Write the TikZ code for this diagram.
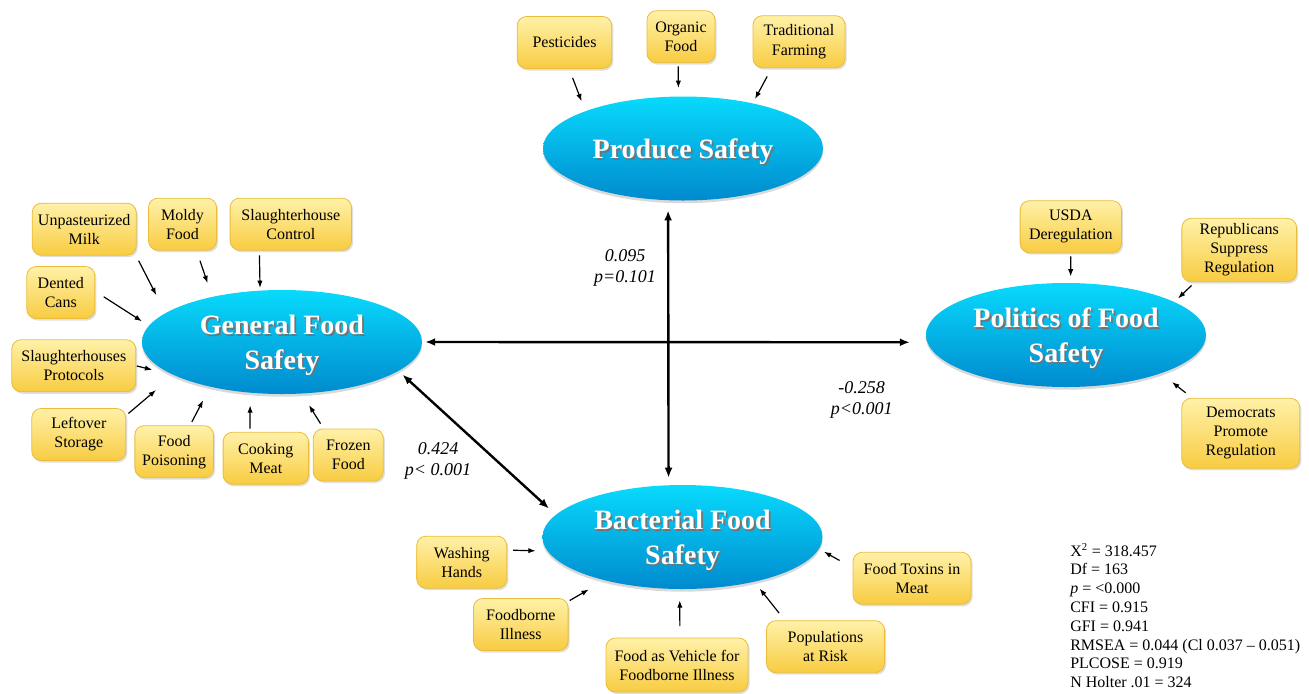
\documentclass[tikz,border=0pt]{standalone}
\usepackage{fontspec}
\setmainfont{Liberation Serif}
\usetikzlibrary{arrows.meta, positioning, shapes.geometric, shadows}
\definecolor{skytop}{RGB}{8,218,252}
\definecolor{skybot}{RGB}{0,138,206}
\definecolor{lemontop}{RGB}{255,241,168}
\definecolor{lemonbot}{RGB}{248,204,66}
\definecolor{lemonrim}{RGB}{234,188,58}
\newcommand{\shtxt}[1]{\makebox[0pt][l]{\kern1.3pt\raisebox{-1.3pt}{\textcolor{black!55}{#1}}}#1}
\tikzstyle{factor}=[ellipse, minimum width=210pt, minimum height=78pt, inner sep=1pt,
  top color=skytop, bottom color=skybot, draw=none, text depth=0pt,
  drop shadow={shadow xshift=0pt, shadow yshift=-2pt, opacity=0.3},
  text=white, font=\fontsize{21}{26}\selectfont\bfseries, align=center]
\tikzstyle{item}=[rectangle, rounded corners=7pt, draw=lemonrim, line width=0.6pt,
  top color=lemontop, bottom color=lemonbot, minimum height=39pt, inner xsep=3pt,
  drop shadow={shadow xshift=1.2pt, shadow yshift=-1.5pt, opacity=0.25},
  align=center, font=\fontsize{12}{14.3}\selectfont]
\tikzstyle{load}=[-{Latex[length=5.5pt,width=4pt]}, line width=0.9pt]
\tikzstyle{corr}=[{Latex[length=7.5pt,width=6pt]}-{Latex[length=7.5pt,width=6pt]}, line width=1.8pt]
\tikzstyle{coef}=[font=\fontsize{13.5}{15.75}\selectfont\itshape, align=center]

\begin{document}
\begin{tikzpicture}[x=0.75pt, y=-0.75pt]
  \useasboundingbox (0,0) rectangle (1309,693);
  % latent factors
  \node[factor] (prod) at (683,148.5) {\shtxt{Produce Safety}};
  \node[factor] (gen) at (282,342) {\shtxt{General Food}\\\shtxt{Safety}};
  \node[factor] (pol) at (1066,335) {\shtxt{Politics of Food}\\\shtxt{Safety}};
  \node[factor] (bact) at (682.5,537) {\shtxt{Bacterial Food}\\\shtxt{Safety}};
  % produce items
  \node[item, minimum width=71pt] (pest) at (564.5,42.5) {Pesticides};
  \node[item, minimum width=51pt] (organic) at (681,36.7) {Organic\\Food};
  \node[item, minimum width=69pt] (tradfarm) at (799,41.7) {Traditional\\Farming};
  % general items
  \node[item, minimum width=78pt] (unpast) at (84.2,229.2) {Unpasteurized\\Milk};
  \node[item, minimum width=51pt] (moldy) at (182.5,224.2) {Moldy\\Food};
  \node[item, minimum width=91pt] (slctrl) at (290.8,224.2) {Slaughterhouse\\Control};
  \node[item, minimum width=51pt] (dented) at (60.8,292.5) {Dented\\Cans};
  \node[item, minimum width=93pt] (slprot) at (73.8,365.8) {Slaughterhouses\\Protocols};
  \node[item, minimum width=70.5pt] (leftover) at (78.8,434.5) {Leftover\\Storage};
  \node[item, minimum width=59pt] (poison) at (174.2,451.7) {Food\\Poisoning};
  \node[item, minimum width=64pt] (cooking) at (265.8,458.3) {Cooking\\Meat};
  \node[item, minimum width=52.5pt] (frozen) at (348.3,455) {Frozen\\Food};
  % politics items
  \node[item, minimum width=76pt] (usda) at (1070.8,226.7) {USDA\\Deregulation};
  \node[item, minimum width=86pt, minimum height=47.5pt] (repub) at (1239.2,250) {Republicans\\Suppress\\Regulation};
  \node[item, minimum width=88.5pt, minimum height=52.5pt] (democ) at (1240.8,433.3) {Democrats\\Promote\\Regulation};
  % bacterial items
  \node[item, minimum width=67.5pt] (washing) at (461.7,562.2) {Washing\\Hands};
  \node[item, minimum width=71pt] (foodborne) at (520.8,624.5) {Foodborne\\Illness};
  \node[item, minimum width=106.5pt, minimum height=40.5pt] (vehicle) at (677,665) {Food as Vehicle for\\Foodborne Illness};
  \node[item, minimum width=88.5pt] (popul) at (825.5,646.7) {Populations\\at Risk};
  \node[item, minimum width=88.5pt] (toxins) at (912,578.3) {Food Toxins in\\Meat};
  % coefficients
  \node[coef] (c1) at (625,267.5) {0.095\\p=0.101};
  \node[coef] (c2) at (861.7,399.7) {-0.258\\p<0.001};
  \node[coef] (c3) at (438,461) {0.424\\p< 0.001};
  \node[anchor=north west, align=left, inner sep=0pt, font=\fontsize{12}{14.1}\selectfont] (fit) at (1070,543)
    {X\textsuperscript{2} = 318.457\\Df = 163\\\textit{p} = <0.000\\CFI = 0.915\\GFI = 0.941\\RMSEA = 0.044 (Cl 0.037 -- 0.051)\\PLCOSE = 0.919\\N Holter .01 = 324};
  % correlations
  \path[corr] (prod.-106) edge[shorten <=7.5pt, shorten >=5.5pt] (bact.105);
  \path[corr] (gen.east) edge[shorten <=2.2pt, shorten >=13pt] (pol.-177);
  \path[corr] (gen.-14) edge[shorten <=4pt, shorten >=6.8pt] (bact.170);
  % loadings
  \path[load] (pest.-80) edge[shorten <=7.2pt, shorten >=7.8pt] (prod.159);
  \path[load] (organic.-96) edge[shorten <=2.5pt, shorten >=6.2pt] (prod.95);
  \path[load] (tradfarm.-136) edge[shorten <=7.1pt, shorten >=3.5pt] (prod.33);
  \path[load] (unpast.-27) edge[shorten <=4.3pt, shorten >=15pt] (gen.166);
  \path[load] (moldy.-62) edge[shorten <=8pt, shorten >=10.7pt] (gen.147);
  \path[load] (slctrl.-140) edge[shorten <=3.6pt, shorten >=1.8pt] (gen.113);
  \path[load] (dented.2) edge[shorten <=7.6pt, shorten >=6.1pt] (gen.173);
  \path[load] (slprot.east) edge[shorten <=0.5pt, shorten >=16.5pt] (gen.-163);
  \path[load] (leftover.22) edge[shorten <=2.2pt, shorten >=17.3pt] (gen.-163);
  \path[load] (poison.59) edge[shorten <=2.8pt, shorten >=11.3pt] (gen.-148);
  \path[load] (cooking.121) edge[shorten <=2.5pt, shorten >=9.3pt] (gen.-122);
  \path[load] (frozen.133) edge[shorten <=4.4pt, shorten >=10.1pt] (gen.-69);
  \path[load] (usda.south) edge[shorten <=2.5pt, shorten >=4.7pt] (pol.85);
  \path[load] (repub.-144) edge[shorten <=3.7pt, shorten >=3.7pt] (pol.17);
  \path[load] (democ.144) edge[shorten <=6.2pt, shorten >=10.4pt] (pol.-22);
  \path[load] (washing.15) edge[shorten <=4.5pt, shorten >=8.9pt] (bact.-174);
  \path[load] (foodborne.26) edge[shorten <=1pt, shorten >=13.5pt] (bact.-151);
  \path[load] (vehicle.84) edge[shorten <=8.7pt, shorten >=8.3pt] (bact.-93);
  \path[load] (popul.147) edge[shorten <=6.9pt, shorten >=6.4pt] (bact.-32);
  \path[load] (toxins.170) edge[shorten <=11.2pt, shorten >=4.2pt] (bact.-5);
\end{tikzpicture}
\end{document}
